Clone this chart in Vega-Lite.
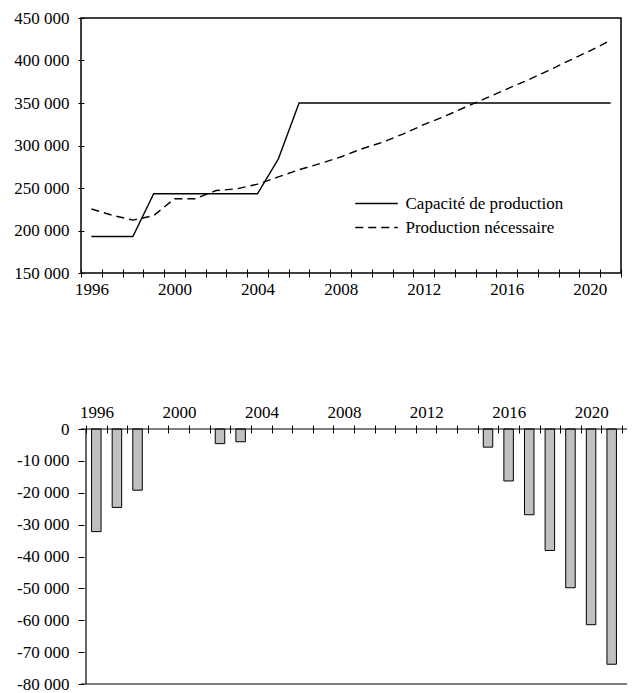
{
  "$schema": "https://vega.github.io/schema/vega-lite/v6.json",
  "padding": {"left": 13, "top": 8, "right": 0, "bottom": 0},
  "spacing": 156,
  "bounds": "flush",
  "background": "white",
  "config": {
    "font": "Liberation Serif",
    "axis": {"labelFont": "Liberation Serif", "labelFontSize": 17, "labelColor": "black", "tickColor": "black", "domainColor": "black", "grid": false},
    "legend": {"labelFont": "Liberation Serif", "labelFontSize": 17, "labelColor": "black"}
  },
  "datasets": {
    "lignes": [
      {"annee": 1996, "serie": "Capacité de production", "valeur": 193000},
      {"annee": 1997, "serie": "Capacité de production", "valeur": 193000},
      {"annee": 1998, "serie": "Capacité de production", "valeur": 193000},
      {"annee": 1999, "serie": "Capacité de production", "valeur": 243300},
      {"annee": 2000, "serie": "Capacité de production", "valeur": 243300},
      {"annee": 2001, "serie": "Capacité de production", "valeur": 243300},
      {"annee": 2002, "serie": "Capacité de production", "valeur": 243300},
      {"annee": 2003, "serie": "Capacité de production", "valeur": 243300},
      {"annee": 2004, "serie": "Capacité de production", "valeur": 243300},
      {"annee": 2005, "serie": "Capacité de production", "valeur": 284100},
      {"annee": 2006, "serie": "Capacité de production", "valeur": 350000},
      {"annee": 2007, "serie": "Capacité de production", "valeur": 350000},
      {"annee": 2008, "serie": "Capacité de production", "valeur": 350000},
      {"annee": 2009, "serie": "Capacité de production", "valeur": 350000},
      {"annee": 2010, "serie": "Capacité de production", "valeur": 350000},
      {"annee": 2011, "serie": "Capacité de production", "valeur": 350000},
      {"annee": 2012, "serie": "Capacité de production", "valeur": 350000},
      {"annee": 2013, "serie": "Capacité de production", "valeur": 350000},
      {"annee": 2014, "serie": "Capacité de production", "valeur": 350000},
      {"annee": 2015, "serie": "Capacité de production", "valeur": 350000},
      {"annee": 2016, "serie": "Capacité de production", "valeur": 350000},
      {"annee": 2017, "serie": "Capacité de production", "valeur": 350000},
      {"annee": 2018, "serie": "Capacité de production", "valeur": 350000},
      {"annee": 2019, "serie": "Capacité de production", "valeur": 350000},
      {"annee": 2020, "serie": "Capacité de production", "valeur": 350000},
      {"annee": 2021, "serie": "Capacité de production", "valeur": 350000},
      {"annee": 1996, "serie": "Production nécessaire", "valeur": 225300},
      {"annee": 1997, "serie": "Production nécessaire", "valeur": 218000},
      {"annee": 1998, "serie": "Production nécessaire", "valeur": 212200},
      {"annee": 1999, "serie": "Production nécessaire", "valeur": 217500},
      {"annee": 2000, "serie": "Production nécessaire", "valeur": 237400},
      {"annee": 2001, "serie": "Production nécessaire", "valeur": 237400},
      {"annee": 2002, "serie": "Production nécessaire", "valeur": 247000},
      {"annee": 2003, "serie": "Production nécessaire", "valeur": 249000},
      {"annee": 2004, "serie": "Production nécessaire", "valeur": 254500},
      {"annee": 2005, "serie": "Production nécessaire", "valeur": 263000},
      {"annee": 2006, "serie": "Production nécessaire", "valeur": 271500},
      {"annee": 2007, "serie": "Production nécessaire", "valeur": 278600},
      {"annee": 2008, "serie": "Production nécessaire", "valeur": 286500},
      {"annee": 2009, "serie": "Production nécessaire", "valeur": 295900},
      {"annee": 2010, "serie": "Production nécessaire", "valeur": 303700},
      {"annee": 2011, "serie": "Production nécessaire", "valeur": 313500},
      {"annee": 2012, "serie": "Production nécessaire", "valeur": 324500},
      {"annee": 2013, "serie": "Production nécessaire", "valeur": 334200},
      {"annee": 2014, "serie": "Production nécessaire", "valeur": 345000},
      {"annee": 2015, "serie": "Production nécessaire", "valeur": 355700},
      {"annee": 2016, "serie": "Production nécessaire", "valeur": 366300},
      {"annee": 2017, "serie": "Production nécessaire", "valeur": 376900},
      {"annee": 2018, "serie": "Production nécessaire", "valeur": 388100},
      {"annee": 2019, "serie": "Production nécessaire", "valeur": 399800},
      {"annee": 2020, "serie": "Production nécessaire", "valeur": 411400},
      {"annee": 2021, "serie": "Production nécessaire", "valeur": 423700}
    ],
    "ecarts": [
      {"annee": 1996, "ecart": -32200},
      {"annee": 1997, "ecart": -24600},
      {"annee": 1998, "ecart": -19200},
      {"annee": 2002, "ecart": -4600},
      {"annee": 2003, "ecart": -4000},
      {"annee": 2015, "ecart": -5700},
      {"annee": 2016, "ecart": -16300},
      {"annee": 2017, "ecart": -26900},
      {"annee": 2018, "ecart": -38100},
      {"annee": 2019, "ecart": -49800},
      {"annee": 2020, "ecart": -61400},
      {"annee": 2021, "ecart": -73800}
    ]
  },
  "vconcat": [
    {
      "width": 540,
      "height": 255,
      "view": {"stroke": "black", "strokeWidth": 1.5},
      "data": {"name": "lignes"},
      "mark": {"type": "line", "color": "black", "strokeWidth": 1.4},
      "encoding": {
        "x": {
          "field": "annee", "type": "quantitative",
          "scale": {"domain": [1995.5, 2021.5], "nice": false, "zero": false},
          "axis": {
            "title": null, "domain": false, "offset": -4, "tickSize": 8, "tickWidth": 1,
            "labelFont": "Liberation Serif", "labelFontSize": 17, "labelColor": "black",
            "values": [1995.5, 1996.5, 1997.5, 1998.5, 1999.5, 2000.5, 2001.5, 2002.5, 2003.5, 2004.5, 2005.5, 2006.5, 2007.5, 2008.5, 2009.5, 2010.5, 2011.5, 2012.5, 2013.5, 2014.5, 2015.5, 2016.5, 2017.5, 2018.5, 2019.5, 2020.5, 2021.5],
            "labelExpr": "(datum.value + 0.5) % 4 == 0 ? format(datum.value + 0.5, 'd') : ''",
            "labelOffset": 10.4, "labelPadding": 4, "labelFlush": false, "labelOverlap": false
          }
        },
        "y": {
          "field": "valeur", "type": "quantitative",
          "scale": {"domain": [150000, 450000], "nice": false, "zero": false},
          "axis": {
            "title": null, "domain": false, "offset": -3, "tickSize": 6, "tickWidth": 1,
            "labelFont": "Liberation Serif", "labelFontSize": 17, "labelColor": "black",
            "values": [150000, 200000, 250000, 300000, 350000, 400000, 450000],
            "labelExpr": "replace(format(datum.value, ','), ',', ' ')",
            "labelPadding": 9, "labelFlush": false, "labelOverlap": false
          }
        },
        "strokeDash": {
          "field": "serie", "type": "nominal",
          "scale": {"domain": ["Capacité de production", "Production nécessaire"], "range": [[1, 0], [8, 5]]},
          "legend": {
            "title": null, "orient": "none", "legendX": 286, "legendY": 176,
            "symbolType": "M-2.5,0H2.5", "symbolSize": 289, "symbolStrokeWidth": 1.4, "symbolStrokeColor": "black", "symbolFillColor": "transparent",
            "labelFont": "Liberation Serif", "labelFontSize": 17, "labelColor": "black",
            "rowPadding": 6, "labelOffset": 19.5, "padding": 0
          }
        }
      }
    },
    {
      "width": 546,
      "height": 255,
      "view": {"stroke": null},
      "layer": [
        {
          "data": {"name": "ecarts"},
          "mark": {"type": "bar", "width": 9.5, "fill": "#c0c0c0", "stroke": "black", "strokeWidth": 1},
          "encoding": {
            "x": {
              "field": "annee", "type": "quantitative",
              "scale": {"domain": [1995.5, 2021.5], "nice": false, "zero": false},
              "axis": {
                "title": null, "orient": "top", "domain": false, "offset": -4, "tickSize": 8, "tickWidth": 1,
                "labelFont": "Liberation Serif", "labelFontSize": 17, "labelColor": "black",
                "values": [1995.5, 1996.5, 1997.5, 1998.5, 1999.5, 2000.5, 2001.5, 2002.5, 2003.5, 2004.5, 2005.5, 2006.5, 2007.5, 2008.5, 2009.5, 2010.5, 2011.5, 2012.5, 2013.5, 2014.5, 2015.5, 2016.5, 2017.5, 2018.5, 2019.5, 2020.5, 2021.5],
                "labelExpr": "(datum.value + 0.5) % 4 == 0 ? format(datum.value + 0.5, 'd') : ''",
                "labelOffset": 10.5, "labelPadding": 4, "labelFlush": false, "labelOverlap": false
              }
            },
            "y": {
              "field": "ecart", "type": "quantitative",
              "scale": {"domain": [-80000, 0], "nice": false},
              "axis": {
                "title": null, "domain": false, "offset": -3, "tickSize": 6, "tickWidth": 1,
                "labelFont": "Liberation Serif", "labelFontSize": 17, "labelColor": "black",
                "values": [0, -10000, -20000, -30000, -40000, -50000, -60000, -70000, -80000],
                "labelExpr": "(datum.value < 0 ? '-' : '') + replace(format(abs(datum.value), ','), ',', ' ')",
                "labelPadding": 9, "labelFlush": false, "labelOverlap": false
              }
            }
          }
        },
        {
          "data": {"values": [{}]},
          "mark": {"type": "rule", "color": "black", "strokeWidth": 1.2},
          "encoding": {
            "y": {
              "datum": 0, "type": "quantitative",
              "axis": {
                "title": null, "domain": false, "offset": -3, "tickSize": 6, "tickWidth": 1,
                "labelFont": "Liberation Serif", "labelFontSize": 17, "labelColor": "black",
                "values": [0, -10000, -20000, -30000, -40000, -50000, -60000, -70000, -80000],
                "labelExpr": "(datum.value < 0 ? '-' : '') + replace(format(abs(datum.value), ','), ',', ' ')",
                "labelPadding": 9, "labelFlush": false, "labelOverlap": false
              }
            }
          }
        },
        {
          "data": {"values": [{}]},
          "mark": {"type": "rule", "color": "black", "strokeWidth": 1.2},
          "encoding": {
            "y": {
              "datum": -80000, "type": "quantitative",
              "axis": {
                "title": null, "domain": false, "offset": -3, "tickSize": 6, "tickWidth": 1,
                "labelFont": "Liberation Serif", "labelFontSize": 17, "labelColor": "black",
                "values": [0, -10000, -20000, -30000, -40000, -50000, -60000, -70000, -80000],
                "labelExpr": "(datum.value < 0 ? '-' : '') + replace(format(abs(datum.value), ','), ',', ' ')",
                "labelPadding": 9, "labelFlush": false, "labelOverlap": false
              }
            }
          }
        },
        {
          "data": {"values": [{}]},
          "mark": {"type": "rule", "color": "black", "strokeWidth": 1.2},
          "encoding": {
            "x": {
              "datum": 1995.5, "type": "quantitative",
              "axis": {
                "title": null, "orient": "top", "domain": false, "offset": -4, "tickSize": 8, "tickWidth": 1,
                "labelFont": "Liberation Serif", "labelFontSize": 17, "labelColor": "black",
                "values": [1995.5, 1996.5, 1997.5, 1998.5, 1999.5, 2000.5, 2001.5, 2002.5, 2003.5, 2004.5, 2005.5, 2006.5, 2007.5, 2008.5, 2009.5, 2010.5, 2011.5, 2012.5, 2013.5, 2014.5, 2015.5, 2016.5, 2017.5, 2018.5, 2019.5, 2020.5, 2021.5],
                "labelExpr": "(datum.value + 0.5) % 4 == 0 ? format(datum.value + 0.5, 'd') : ''",
                "labelOffset": 10.5, "labelPadding": 4, "labelFlush": false, "labelOverlap": false
              }
            }
          }
        }
      ]
    }
  ]
}
